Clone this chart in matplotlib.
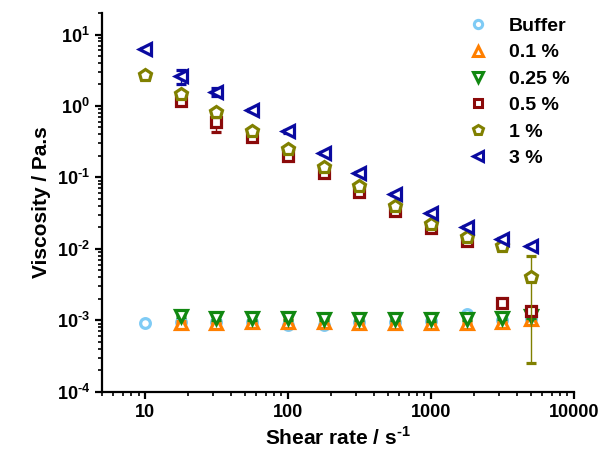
import numpy as np
import matplotlib
matplotlib.use('Agg')
import matplotlib.pyplot as plt
from matplotlib.lines import Line2D

plt.rcParams['font.family'] = 'Liberation Sans'
plt.rcParams['font.weight'] = 'bold'
plt.rcParams['mathtext.fontset'] = 'custom'
plt.rcParams['mathtext.rm'] = 'Liberation Sans:bold'
plt.rcParams['mathtext.bf'] = 'Liberation Sans:bold'
plt.rcParams['axes.unicode_minus'] = False

#%% data

rate      = [10, 17.8, 31.6, 56.2, 100, 178, 316, 562, 1000, 1780, 3160, 5000]
rate_from2 = rate[1:]

buffer_v  = [0.00093, 0.00096, 0.00094, 0.00095, 0.00086, 0.00086, 0.00095,
             0.00095, 0.00097, 0.00123, 0.00100, 0.00105]
buffer_e  = [0.00003, 0.00005, 0.00004, 0.00005, 0.00004, 0.00004, 0.00004,
             0.00004, 0.00004, 0.00006, 0.00004, 0.00004]

p01_v     = [0.00093, 0.00092, 0.00094, 0.00096, 0.00095, 0.00093, 0.00093,
             0.00092, 0.00093, 0.00095, 0.00105]
p01_e     = [0.00004, 0.00004, 0.00004, 0.00008, 0.00008, 0.00004, 0.00004,
             0.00004, 0.00004, 0.00004, 0.00004]

p025_v    = [0.00116, 0.00108, 0.00107, 0.00108, 0.00105, 0.00105, 0.00105,
             0.00103, 0.00105, 0.00108, 0.00113]
p025_e    = [0.00005, 0.00006, 0.00006, 0.00006, 0.00005, 0.00005, 0.00005,
             0.00005, 0.00005, 0.00005, 0.00005]

p05_v     = [1.16, 0.59, 0.37, 0.20, 0.114, 0.063, 0.0343, 0.0194, 0.0130,
             0.00173, 0.00133]
p05_e     = [0.05, 0.16, 0.02, 0.01, 0.005, 0.003, 0.0015, 0.001, 0.0018,
             0.00005, 0.00005]

p1_v      = [2.72, 1.48, 0.82, 0.45, 0.25, 0.139, 0.0767, 0.0403, 0.0223,
             0.0148, 0.0111, 0.0041]
p1_e      = [0.05, 0.05, 0.03, 0.02, 0.01, 0.005, 0.003, 0.0015, 0.001,
             0.0006, 0.0004, 0.00385]

p3_v      = [6.3, 2.6, 1.58, 0.89, 0.44, 0.218, 0.116, 0.0587, 0.0314,
             0.0200, 0.0138, 0.0111]
p3_e      = [0.1, 0.6, 0.2, 0.03, 0.02, 0.008, 0.004, 0.002, 0.001,
             0.0006, 0.0004, 0.0003]

labels    = ['Buffer', '0.1 %', '0.25 %', '0.5 %', '1 %', '3 %']
colors    = ['#7FCBF5', '#FF7F00', '#118811', '#8B0A0A', '#808000', '#0A0AA0']
markers   = ['o', '^', 'v', 's', 'p', '<']

series = [(rate, buffer_v, buffer_e),
          (rate_from2, p01_v, p01_e),
          (rate_from2, p025_v, p025_e),
          (rate_from2, p05_v, p05_e),
          (rate, p1_v, p1_e),
          (rate, p3_v, p3_e)]

sizes = [7, 8, 8, 6.5, 9, 8.5]

#%% plot

fig = plt.figure(figsize=(6.13, 4.59), dpi=100)
ax = fig.add_axes([0.1664, 0.1466, 0.77, 0.825])

for i, (x, y, e) in enumerate(series):
    ax.errorbar(x, y, yerr=e, fmt=markers[i], color=colors[i],
                mfc='white', mec=colors[i], mew=2.3, ms=sizes[i],
                elinewidth=1.0, capsize=3.5, capthick=1.0,
                label=labels[i], zorder=3+i)

ax.set_xscale('log')
ax.set_yscale('log')
ax.set_xlim(5, 10000)
ax.set_ylim(1e-4, 20)

ax.set_yticks([1e-4, 1e-3, 1e-2, 1e-1, 1e0, 1e1])
ax.set_yticklabels([r'$10^{\text{-4}}$', r'$10^{\text{-3}}$', r'$10^{\text{-2}}$',
                    r'$10^{\text{-1}}$', r'$10^{0}$', r'$10^{1}$'])
ax.set_xticks([10, 100, 1000, 10000])
ax.set_xticklabels(['10', '100', '1000', '10000'])

ax.spines['top'].set_visible(False)
ax.spines['right'].set_visible(False)
ax.spines['left'].set_linewidth(1.6)
ax.spines['bottom'].set_linewidth(1.6)
ax.tick_params(which='major', direction='out', length=5, width=1.6,
               labelsize=13)
ax.tick_params(which='minor', direction='out', length=3, width=1.2)

ax.set_xlabel(r'Shear rate / s$^{\text{-1}}$', fontsize=15, fontweight='bold')
ax.set_ylabel('Viscosity / Pa.s', fontsize=15, fontweight='bold')

# legend without error bars
handles = [Line2D([], [], ls='none', marker=markers[i], color=colors[i],
                  mfc='white', mec=colors[i], mew=2.2, ms=sizes[i]*0.85)
           for i in range(len(labels))]
ax.legend(handles=handles, labels=labels, loc='upper left',
          bbox_to_anchor=(0.735, 1.0), bbox_transform=fig.transFigure,
          frameon=False, fontsize=14, handletextpad=1.1, labelspacing=0.45,
          handlelength=1.0)

fig.savefig('out.png', dpi=100)
